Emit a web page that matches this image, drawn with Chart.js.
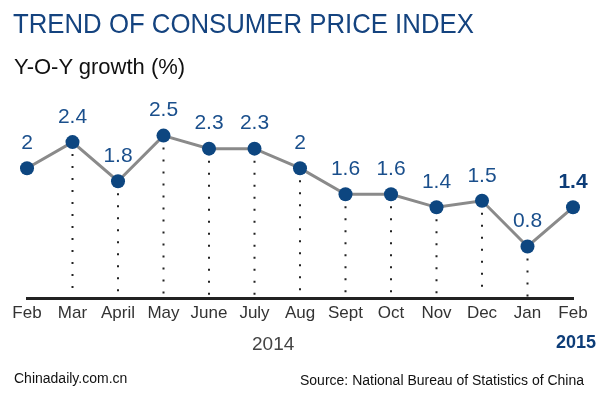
<!DOCTYPE html>
<html>
<head>
<meta charset="utf-8">
<script src="https://cdn.jsdelivr.net/npm/chart.js@4.4.0/dist/chart.umd.min.js"></script>
<style>
  body { margin: 0; background: #fff; font-family: "Liberation Sans", Arial, sans-serif; }
  #wrap { position: relative; width: 600px; height: 393px; overflow: hidden; }
  #cpi { position: absolute; left: 0; top: 0; }
  .txt { position: absolute; white-space: nowrap; line-height: 1; }
  #title { left: 13px; top: 10px; font-size: 28px; color: #14437f; transform: scaleX(0.92); transform-origin: left top; }
  #sub { left: 14px; top: 56px; font-size: 22px; color: #111; }
  #y2014 { left: 252px; top: 334px; font-size: 19px; color: #444; }
  #y2015 { right: 4px; top: 333px; font-size: 18px; font-weight: bold; color: #0d3d78; }
  #site { left: 14px; top: 371px; font-size: 14px; color: #111; }
  #src { left: 300px; top: 373px; font-size: 14px; color: #111; }
</style>
</head>
<body>
<div id="wrap">
  <canvas id="cpi" width="600" height="393"></canvas>
  <div class="txt" id="title">TREND OF CONSUMER PRICE INDEX</div>
  <div class="txt" id="sub">Y-O-Y growth (%)</div>
  <div class="txt" id="y2014">2014</div>
  <div class="txt" id="y2015">2015</div>
  <div class="txt" id="site">Chinadaily.com.cn</div>
  <div class="txt" id="src">Source: National Bureau of Statistics of China</div>
</div>
<script>
const months = ['Feb', 'Mar', 'April', 'May', 'June', 'July', 'Aug', 'Sept', 'Oct', 'Nov', 'Dec', 'Jan', 'Feb'];
const cpiGrowth = [2, 2.4, 1.8, 2.5, 2.3, 2.3, 2, 1.6, 1.6, 1.4, 1.5, 0.8, 1.4];
// points with a dotted drop line down to the axis
const dropLines = [false, true, true, true, true, true, true, true, true, true, true, true, false];

const navy = '#0d4680';

// axis line + dotted drops, drawn under the line
const dropPlugin = {
    id: 'drops',
    beforeDatasetsDraw(chart) {
        const ctx = chart.ctx;
        const meta = chart.getDatasetMeta(0);
        const y0 = chart.scales.y.getPixelForValue(0);
        ctx.save();
        ctx.strokeStyle = '#222';
        ctx.lineWidth = 2;
        ctx.setLineDash([2, 10]);
        meta.data.forEach((pt, i) => {
            if (!dropLines[i]) return;
            ctx.beginPath();
            ctx.moveTo(pt.x, pt.y + 12);
            ctx.lineTo(pt.x, y0 - 2);
            ctx.stroke();
        });
        ctx.setLineDash([]);
        ctx.strokeStyle = '#222';
        ctx.lineWidth = 3;
        ctx.beginPath();
        ctx.moveTo(chart.chartArea.left - 1, y0);
        ctx.lineTo(chart.chartArea.right + 1, y0);
        ctx.stroke();
        ctx.restore();
    }
};

// value labels above the dots
const labelPlugin = {
    id: 'valueLabels',
    afterDatasetsDraw(chart) {
        const ctx = chart.ctx;
        const meta = chart.getDatasetMeta(0);
        ctx.save();
        ctx.textAlign = 'center';
        ctx.textBaseline = 'middle';
        meta.data.forEach((pt, i) => {
            const last = i === meta.data.length - 1;
            ctx.font = (last ? 'bold ' : '') + '21px "Liberation Sans", Arial, sans-serif';
            ctx.fillStyle = last ? '#0d3d78' : '#1a4f8c';
            ctx.fillText(String(cpiGrowth[i]), pt.x, pt.y - 25);
        });
        ctx.restore();
    }
};

new Chart(document.getElementById('cpi'), {
    type: 'line',
    data: {
        labels: months,
        datasets: [{
            data: cpiGrowth,
            borderColor: '#8a8a8a',
            borderWidth: 3,
            pointRadius: 7,
            pointHoverRadius: 7,
            pointBackgroundColor: navy,
            pointBorderColor: navy,
            pointBorderWidth: 0,
            tension: 0
        }]
    },
    options: {
        responsive: false,
        animation: false,
        devicePixelRatio: 1,
        layout: { padding: { top: 103, left: 27, right: 27, bottom: 72 } },
        plugins: {
            legend: { display: false },
            tooltip: { enabled: false }
        },
        scales: {
            x: {
                offset: false,
                grid: { display: false },
                border: { display: false },
                ticks: {
                    padding: -3,
                    autoSkip: false,
                    maxRotation: 0,
                    color: '#333',
                    font: { family: '"Liberation Sans", Arial, sans-serif', size: 17 }
                }
            },
            y: { display: false, min: 0, max: 3 }
        }
    },
    plugins: [dropPlugin, labelPlugin]
});
</script>
</body>
</html>
